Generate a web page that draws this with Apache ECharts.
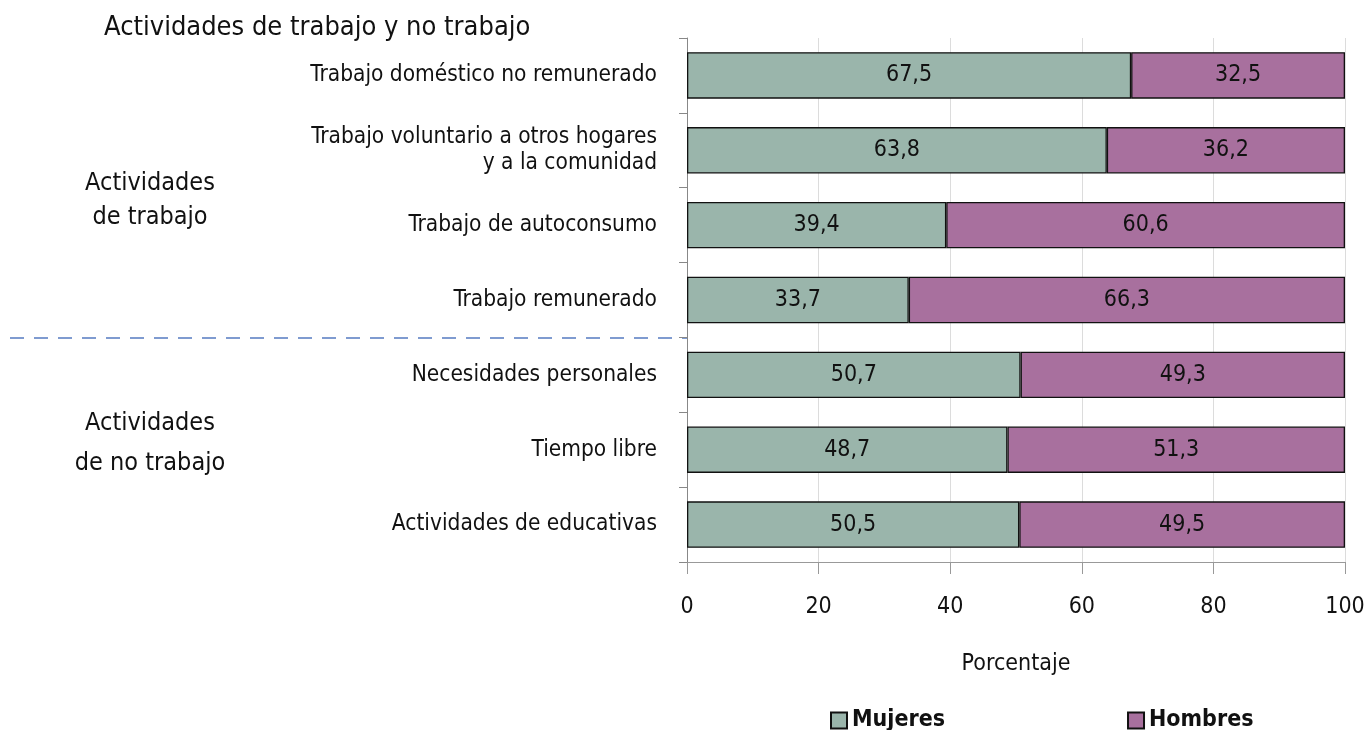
<!DOCTYPE html>
<html>
<head>
<meta charset="utf-8">
<script src="https://cdn.jsdelivr.net/npm/echarts@6/dist/echarts.min.js"></script>
<style>
  html, body { margin: 0; padding: 0; background: #fff; }
  #chart { width: 1365px; height: 730px; }
</style>
</head>
<body>
<div id="chart"></div>
<script>
const categories = [
  'Trabajo doméstico no remunerado',
  'Trabajo voluntario a otros hogares\ny a la comunidad',
  'Trabajo de autoconsumo',
  'Trabajo remunerado',
  'Necesidades personales',
  'Tiempo libre',
  'Actividades de educativas'
];
const mujeres = [67.5, 63.8, 39.4, 33.7, 50.7, 48.7, 50.5];
const hombres = [32.5, 36.2, 60.6, 66.3, 49.3, 51.3, 49.5];
const xTicks = [0, 20, 40, 60, 80, 100];

const FONT = "'Liberation Sans Narrow', 'DejaVu Sans Condensed', sans-serif";
const chart = echarts.init(document.getElementById('chart'));

const fmt = (v) => v.toFixed(1).replace('.', ',');

chart.setOption({
  animation: false,
  textStyle: { fontFamily: FONT, color: '#111' },
  title: {
    text: 'Actividades de trabajo y no trabajo',
    left: 99,
    top: 9,
    textStyle: { fontFamily: FONT, fontSize: 27, fontWeight: 'normal', color: '#111' }
  },
  grid: { left: 687, right: 20, top: 38, bottom: 168, outerBoundsMode: 'none' },
  legend: {
    data: ['Mujeres', 'Hombres'],
    left: 825,
    top: 704,
    itemGap: 182,
    itemWidth: 16,
    itemHeight: 16,
    icon: 'rect',
    textStyle: { fontFamily: FONT, fontSize: 23, fontWeight: 'bold', color: '#111' }
  },
  xAxis: {
    type: 'value',
    min: xTicks[0],
    max: xTicks[xTicks.length - 1],
    interval: 20,
    name: 'Porcentaje',
    nameLocation: 'middle',
    nameGap: 91,
    nameTextStyle: { fontFamily: FONT, fontSize: 23, color: '#111' },
    axisLine: { show: true, lineStyle: { color: '#999' } },
    axisTick: { show: true, length: 12, lineStyle: { color: '#999' } },
    axisLabel: { fontFamily: FONT, fontSize: 23, color: '#111', margin: 34 },
    splitLine: { show: true, lineStyle: { color: '#dcdcdc' } }
  },
  yAxis: {
    type: 'category',
    data: categories,
    inverse: true,
    axisLine: { show: true, lineStyle: { color: '#888' } },
    axisTick: { show: true, length: 8, lineStyle: { color: '#888' } },
    axisLabel: {
      fontFamily: FONT, fontSize: 22.5, color: '#111', margin: 30,
      align: 'right', lineHeight: 26
    }
  },
  series: [
    {
      name: 'Mujeres',
      type: 'bar',
      stack: 'total',
      data: mujeres,
      barCategoryGap: '38%',
      itemStyle: { color: '#9ab5ab', borderColor: '#111', borderWidth: 1.3 },
      label: {
        show: true, position: 'inside', formatter: (p) => fmt(p.value),
        fontFamily: FONT, fontSize: 23, color: '#111'
      }
    },
    {
      name: 'Hombres',
      type: 'bar',
      stack: 'total',
      data: hombres,
      itemStyle: { color: '#a8709e', borderColor: '#111', borderWidth: 1.3 },
      label: {
        show: true, position: 'inside', formatter: (p) => fmt(p.value),
        fontFamily: FONT, fontSize: 23, color: '#111'
      }
    }
  ],
  graphic: [
    {
      type: 'line',
      shape: { x1: 10, y1: 338, x2: 687, y2: 338 },
      style: { stroke: '#7f9bd0', lineWidth: 2, lineDash: [14, 10] }
    },
    {
      type: 'text',
      x: 150, y: 166,
      style: {
        text: 'Actividades\nde trabajo', fontFamily: FONT, fontSize: 25,
        fill: '#111', align: 'center', verticalAlign: 'top', lineHeight: 34
      }
    },
    {
      type: 'text',
      x: 150, y: 403,
      style: {
        text: 'Actividades\nde no trabajo', fontFamily: FONT, fontSize: 25,
        fill: '#111', align: 'center', verticalAlign: 'top', lineHeight: 40
      }
    }
  ]
});
</script>
</body>
</html>
